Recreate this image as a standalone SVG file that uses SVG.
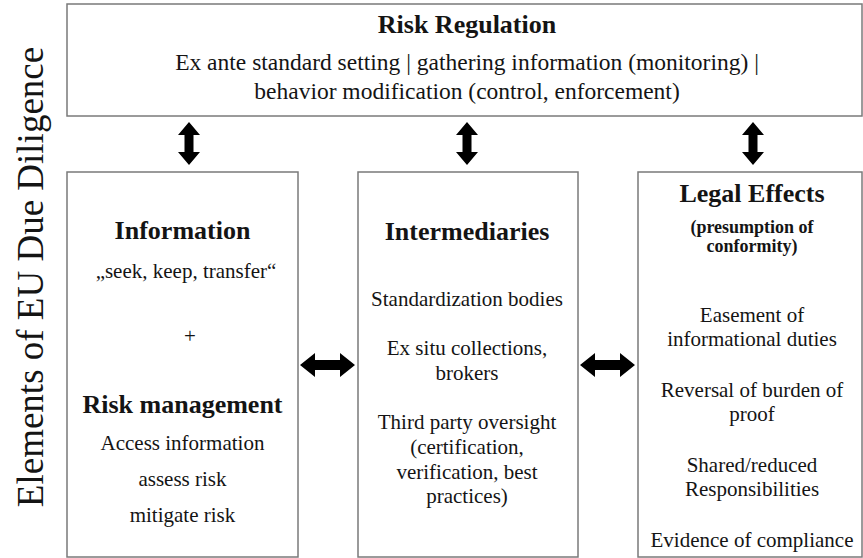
<svg xmlns="http://www.w3.org/2000/svg" xmlns:xlink="http://www.w3.org/1999/xlink" width="863" height="558" viewBox="0 0 863 558" font-family="'Liberation Serif', 'Times New Roman', serif">
<style>
.box{fill:#fff;stroke:#7a7a7a;stroke-width:1.5}
text, g text{font-family:"Liberation Serif","Times New Roman",serif;fill:#141414;text-anchor:middle}
.h{font-weight:bold;font-size:26px}
.t{font-size:21px}
.tt{font-size:23.5px}
.s{font-weight:bold;font-size:18px}
.side{font-size:37px}
.arrow{fill:#000}
</style>
<defs>
<path id="varrow" d="M0,-21.5 L11,-8.5 L4.5,-8.5 L4.5,8.5 L11,8.5 L0,21.5 L-11,8.5 L-4.5,8.5 L-4.5,-8.5 L-11,-8.5 Z"/>
<path id="harrow" d="M-27.5,0 L-12.5,-12 L-12.5,-5 L12.5,-5 L12.5,-12 L27.5,0 L12.5,12 L12.5,5 L-12.5,5 L-12.5,12 Z"/>
</defs>
<rect width="863" height="558" fill="#fff"/>
<text id="side-label" class="side" font-family="'Liberation Serif', serif" fill="#141414" text-anchor="middle" transform="translate(43,277) rotate(-90)">Elements of EU Due Diligence</text>
<g id="risk-regulation" font-family="'Liberation Serif', serif" fill="#141414" text-anchor="middle">
<rect class="box" x="67" y="4" width="795" height="112"/>
<text class="h" font-family="'Liberation Serif', serif" x="467" y="33">Risk Regulation</text>
<text class="tt" font-family="'Liberation Serif', serif" x="467" y="70">Ex ante standard setting | gathering information (monitoring) |</text>
<text class="tt" font-family="'Liberation Serif', serif" x="467" y="99">behavior modification (control, enforcement)</text>
</g>
<g id="information" font-family="'Liberation Serif', serif" fill="#141414" text-anchor="middle">
<rect class="box" x="67" y="172" width="231" height="385"/>
<text class="h" font-family="'Liberation Serif', serif" x="182.5" y="239">Information</text>
<text class="t" font-family="'Liberation Serif', serif" x="186" y="278">„seek, keep, transfer“</text>
<text class="t" font-family="'Liberation Serif', serif" fill="#141414" x="190" y="343">+</text>
<text class="h" font-family="'Liberation Serif', serif" x="182.5" y="413">Risk management</text>
<text class="t" font-family="'Liberation Serif', serif" x="182.5" y="450">Access information</text>
<text class="t" font-family="'Liberation Serif', serif" x="182.5" y="486">assess risk</text>
<text class="t" font-family="'Liberation Serif', serif" x="182.5" y="522">mitigate risk</text>
</g>
<g id="intermediaries" font-family="'Liberation Serif', serif" fill="#141414" text-anchor="middle">
<rect class="box" x="358" y="172" width="220" height="385"/>
<text class="h" font-family="'Liberation Serif', serif" x="467" y="240">Intermediaries</text>
<text class="t" font-family="'Liberation Serif', serif" x="467" y="306">Standardization bodies</text>
<text class="t" font-family="'Liberation Serif', serif" x="467" y="355">Ex situ collections,</text>
<text class="t" font-family="'Liberation Serif', serif" x="467" y="380">brokers</text>
<text class="t" font-family="'Liberation Serif', serif" x="467" y="429">Third party oversight</text>
<text class="t" font-family="'Liberation Serif', serif" x="467" y="454">(certification,</text>
<text class="t" font-family="'Liberation Serif', serif" x="467" y="479">verification, best</text>
<text class="t" font-family="'Liberation Serif', serif" x="467" y="503">practices)</text>
</g>
<g id="legal-effects" font-family="'Liberation Serif', serif" fill="#141414" text-anchor="middle">
<rect class="box" x="638" y="172" width="224" height="385"/>
<text class="h" font-family="'Liberation Serif', serif" x="752" y="202">Legal Effects</text>
<text class="s" font-family="'Liberation Serif', serif" x="752" y="233">(presumption of</text>
<text class="s" font-family="'Liberation Serif', serif" x="752" y="252">conformity)</text>
<text class="t" font-family="'Liberation Serif', serif" x="752" y="322">Easement of</text>
<text class="t" font-family="'Liberation Serif', serif" x="752" y="346">informational duties</text>
<text class="t" font-family="'Liberation Serif', serif" x="752" y="397">Reversal of burden of</text>
<text class="t" font-family="'Liberation Serif', serif" x="752" y="421">proof</text>
<text class="t" font-family="'Liberation Serif', serif" x="752" y="472">Shared/reduced</text>
<text class="t" font-family="'Liberation Serif', serif" x="752" y="496">Responsibilities</text>
<text class="t" font-family="'Liberation Serif', serif" x="752" y="547">Evidence of compliance</text>
</g>
<g id="connectors" class="arrow" fill="#000">
<use xlink:href="#varrow" transform="translate(189,143.5)"/>
<use xlink:href="#varrow" transform="translate(467,143.5)"/>
<use xlink:href="#varrow" transform="translate(753,143.5)"/>
<use xlink:href="#harrow" transform="translate(327.5,365)"/>
<use xlink:href="#harrow" transform="translate(607.5,365)"/>
</g>
</svg>
